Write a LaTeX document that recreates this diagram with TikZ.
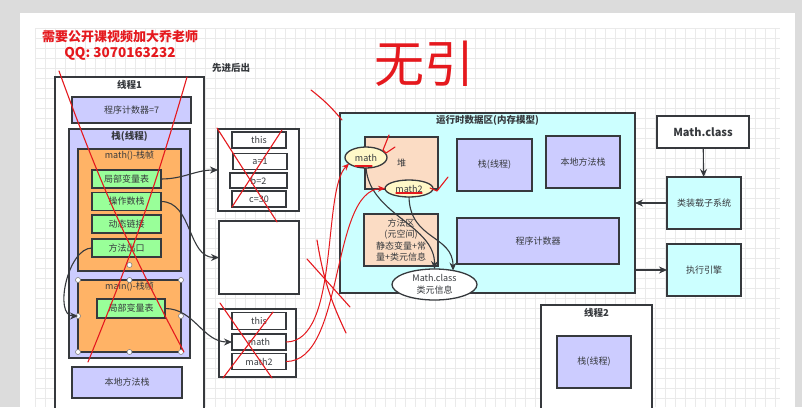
\documentclass[tikz,border=0pt]{standalone}
\usepackage{fontspec}
\setmainfont{Noto Sans CJK SC}
\usetikzlibrary{arrows.meta,positioning,calc,shapes.geometric}
\definecolor{ink}{HTML}{36393D}
\definecolor{stackPurple}{HTML}{CCCCFF}
\definecolor{frameOrange}{HTML}{FFB366}
\definecolor{slotGreen}{HTML}{99FF99}
\definecolor{heapPeach}{HTML}{FBDCC4}
\definecolor{areaCyan}{HTML}{CCFFFF}
\definecolor{objYellow}{HTML}{FFF8C8}
\definecolor{penRed}{HTML}{E5191E}
\definecolor{pageGray}{HTML}{DCDCDC}
\definecolor{gridLine}{HTML}{EAEAEA}

\begin{document}
\begin{tikzpicture}[x=1pt,y=-1pt,
  box/.style={draw=ink,line width=1.3pt,inner sep=0pt,outer sep=0pt,align=center,text=ink,font=\fontsize{9}{11.5}\selectfont},
  ttl/.style={inner sep=1pt,text=ink,font=\fontsize{9.5}{11}\selectfont\bfseries},
  obj/.style={box,ellipse,fill=objYellow},
  arr/.style={-{Stealth[length=8pt,width=7pt]},line width=1.1pt,draw=ink},
  rarr/.style={-{Stealth[length=7pt,width=6pt]},line width=1pt,draw=penRed},
  pen/.style={draw=penRed,line width=1.1pt,line cap=round,line join=round},
  hdl/.style={draw=gray,fill=white,line width=0.6pt},
  grd/.style={draw=gridLine,line width=0.4pt}]
  \path[use as bounding box,clip] (0,0) rectangle (802,407);
  % screen and page
  \fill[pageGray] (0,0) rectangle (802,407);
  \fill[white] (20,13) rectangle (795,407);
  \foreach \gx in {35,45,...,775} \draw[grd] (\gx,28) -- (\gx,407);
  \foreach \gy in {28,38,...,398} \draw[grd] (35,\gy) -- (780,\gy);

  \node[text=penRed,font=\fontsize{13}{14}\selectfont\bfseries] (wm1) at (120,37) {需要公开课视频加大乔老师};
  \node[text=penRed,font=\fontsize{13.5}{14}\selectfont\bfseries] (wm2) at (120,54) {QQ: 3070163232};
  \node[ttl] (lifo) at (231,68) {先进后出};

  % thread 1
  \node[box,fill=white,minimum width=149pt,minimum height=340pt] (t1) at (129.5,247) {};
  \node[ttl,below=2pt of t1.north] (t1t) {线程1};
  \node[box,fill=stackPurple,minimum width=119pt,minimum height=26pt] (pc1) at (131.5,110) {程序计数器=7};
  \node[box,fill=stackPurple,minimum width=121pt,minimum height=229pt] (stk1) at (129.5,243.5) {};
  \node[ttl,below=1pt of stk1.north] (stk1t) {栈(线程)};
  \node[box,fill=frameOrange,minimum width=103pt,minimum height=122pt] (mf) at (129.5,210) {};
  \node[box,draw=none,fill=none,below=2pt of mf.north] (mft) {math()-栈帧};
  \node[box,fill=slotGreen,minimum width=69pt,minimum height=18pt] (lv1) at (126.5,179) {局部变量表};
  \node[box,fill=slotGreen,minimum width=69pt,minimum height=18pt] (ops) at (126.5,201.5) {操作数栈};
  \node[box,fill=slotGreen,minimum width=69pt,minimum height=18pt] (dyn) at (126.5,224) {动态链接};
  \node[box,fill=slotGreen,minimum width=69pt,minimum height=18pt] (ext) at (126.5,248) {方法出口};
  \node[box,fill=frameOrange,minimum width=103pt,minimum height=72pt] (mnf) at (129.5,316) {};
  \node[box,draw=none,fill=none,below=2pt of mnf.north] (mnft) {main()-栈帧};
  \node[box,fill=slotGreen,minimum width=68pt,minimum height=19pt] (lv2) at (131,308.5) {局部变量表};
  \node[box,fill=stackPurple,minimum width=110pt,minimum height=31pt] (nms1) at (127,382.5) {本地方法栈};
  \foreach \a in {north west,north,north east,west,east,south west,south,south east}
    \draw[hdl] (mnf.\a) circle (2.5);
  \draw[hdl] ($(mf.south)+(0,-6)$) circle (2.5);

  % frames in the middle
  \node[box,fill=white,minimum width=81pt,minimum height=82pt] (fr1) at (258.5,170) {};
  \node[box,fill=white,minimum width=54pt,minimum height=16pt] (this1) at (259,140) {this};
  \node[box,fill=white,minimum width=54pt,minimum height=16pt] (a1) at (260,161.5) {a=1};
  \node[box,fill=white,minimum width=57pt,minimum height=15pt] (b2) at (258.5,180.5) {b=2};
  \node[box,fill=white,minimum width=54pt,minimum height=16pt] (c30) at (259,199) {c=30};
  \node[box,fill=white,minimum width=80pt,minimum height=73pt] (emp) at (259,257.5) {};
  \node[box,fill=white,minimum width=77pt,minimum height=68pt] (fr3) at (257.5,343) {};
  \node[box,fill=white,minimum width=54pt,minimum height=17pt] (this3) at (259,321) {this};
  \node[box,fill=white,minimum width=54pt,minimum height=16pt] (math3) at (259,342) {math};
  \node[box,fill=white,minimum width=54pt,minimum height=16pt] (math23) at (259,361.5) {math2};

  % runtime data area
  \node[box,fill=areaCyan,minimum width=295pt,minimum height=180pt] (rt) at (487.5,203) {};
  \node[ttl,below=1pt of rt.north] (rtt) {运行时数据区(内存模型)};
  \node[box,fill=heapPeach,minimum width=73pt,minimum height=52pt] (heap) at (401.5,163) {堆};
  \node[box,fill=stackPurple,minimum width=75pt,minimum height=52pt] (stk2) at (494.5,165) {栈(线程)};
  \node[box,fill=stackPurple,minimum width=74pt,minimum height=52pt] (nms2) at (583,162) {本地方法栈};
  \node[box,fill=heapPeach,minimum width=74pt,minimum height=52pt] (ma) at (401,240) {方法区\\(元空间)\\静态变量+常\\量+类元信息};
  \node[box,fill=stackPurple,minimum width=162pt,minimum height=46pt] (pc2) at (538,241) {程序计数器};
  \node[obj,minimum width=42pt,minimum height=21pt] (me) at (366,157.5) {math};
  \node[obj,minimum width=48pt,minimum height=17pt] (m2e) at (409,188.5) {math2};
  \node[box,ellipse,fill=white,minimum width=85pt,minimum height=31pt] (mce) at (434.5,284.5) {Math.class\\类元信息};

  % class loading
  \node[box,fill=white,minimum width=92pt,minimum height=32pt,font=\fontsize{11}{12}\selectfont\bfseries] (mc) at (703,132) {Math.class};
  \node[box,fill=areaCyan,minimum width=74pt,minimum height=52pt] (cls) at (704,203) {类装载子系统};
  \node[box,fill=areaCyan,minimum width=74pt,minimum height=52pt] (exe) at (704,270) {执行引擎};

  % thread 2
  \node[box,fill=white,minimum width=111pt,minimum height=110pt] (t2) at (596.5,360) {};
  \node[ttl,below=2pt of t2.north] (t2t) {线程2};
  \node[box,fill=stackPurple,minimum width=74pt,minimum height=52pt] (stk3) at (594,362) {栈(线程)};

  % connectors
  \draw[arr] (lv1.east) to[out=0,in=180] (fr1.west);
  \draw[arr] (ops.east) to[out=0,in=180] (emp.west);
  \draw[arr] (ext.west) to[out=180,in=180,looseness=0.9] (mnf.west);
  \draw[arr] (lv2.east) to[out=0,in=180] (math3.west);
  \draw[arr] (me.south) .. controls (370,215) and (435,225) .. (mce.north);
  \draw[arr] (m2e.south) .. controls (410,240) and (453,235) .. (mce.37);
  \draw[arr] (mc) -- (cls);
  \draw[arr] (cls.west) -- (cls.west -| rt.east);
  \draw[arr] (exe.west -| rt.east) -- (exe.west);
  \draw[rarr] (math3.east) .. controls (340,342) and (322,190) .. (me.200);
  \draw[rarr] (math23.east) .. controls (345,362) and (330,190) .. (m2e.west);

  % pen marks
  \node[text=penRed,font=\fontsize{50}{50}\selectfont] (hw) at (424,64) {无引};
  \draw[pen] (59,71) to[bend right=4] (184,352);
  \draw[pen] (187,77) to[bend left=3] (88,362);
  \draw[pen] (217,128) -- (277,222);
  \draw[pen] (282,130) -- (232,207);
  \draw[pen] (220,303) -- (272,378);
  \draw[pen] (273,312) -- (223,378);
  \draw[pen] (317,240) to[bend right=8] (346,333);
  \draw[pen] (307,259) -- (350,307);
  \draw[pen] (311,90) to[bend left=6] (342,120);
  \draw[pen] (389,135) -- (383,150) -- (386,153) -- (395,147);
  \draw[pen] (430,188) -- (437,191) -- (448,177);
  \draw[pen] (355,166) -- (372,166);
  \draw[pen] (396,193) -- (422,193);
\end{tikzpicture}
\end{document}
